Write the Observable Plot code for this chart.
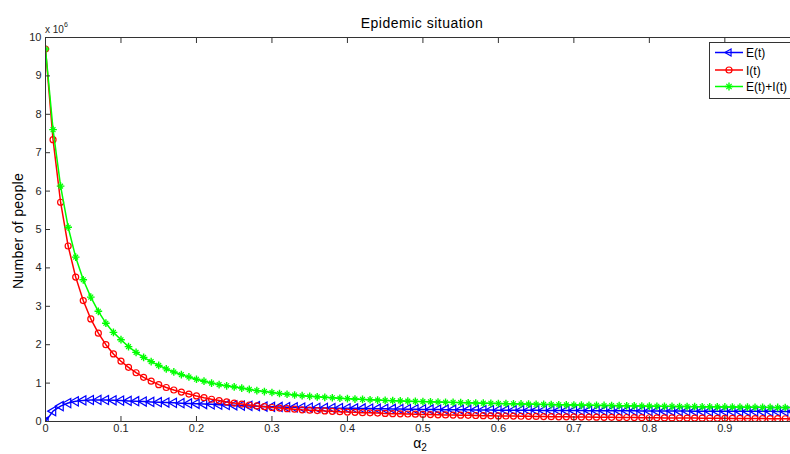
<!DOCTYPE html>
<html><head><meta charset="utf-8">
<script src="https://cdn.jsdelivr.net/npm/d3@7"></script>
<script src="https://cdn.jsdelivr.net/npm/@observablehq/plot@0.6"></script>
<style>
body{margin:0;background:#fff;}
#chart{width:790px;height:454px;overflow:hidden;}
</style>
</head><body><div id="chart"></div>
<script>
// alpha_2 values (x)
const alpha = [0.00,0.01,0.02,0.03,0.04,0.05,0.06,0.07,0.08,0.09,
0.10,0.11,0.12,0.13,0.14,0.15,0.16,0.17,0.18,0.19,
0.20,0.21,0.22,0.23,0.24,0.25,0.26,0.27,0.28,0.29,
0.30,0.31,0.32,0.33,0.34,0.35,0.36,0.37,0.38,0.39,
0.40,0.41,0.42,0.43,0.44,0.45,0.46,0.47,0.48,0.49,
0.50,0.51,0.52,0.53,0.54,0.55,0.56,0.57,0.58,0.59,
0.60,0.61,0.62,0.63,0.64,0.65,0.66,0.67,0.68,0.69,
0.70,0.71,0.72,0.73,0.74,0.75,0.76,0.77,0.78,0.79,
0.80,0.81,0.82,0.83,0.84,0.85,0.86,0.87,0.88,0.89,
0.90,0.91,0.92,0.93,0.94,0.95,0.96,0.97,0.98,0.99];

// E(t), in units of 10^6 people
const seriesE = [0.00,0.27,0.40,0.48,0.525,0.55,0.56,0.562,0.56,0.553,
0.545,0.537,0.528,0.52,0.511,0.502,0.494,0.486,0.478,0.47,
0.462,0.455,0.446,0.438,0.43,0.422,0.414,0.406,0.398,0.39,
0.383,0.378,0.373,0.368,0.364,0.36,0.357,0.354,0.351,0.348,
0.345,0.342,0.339,0.336,0.333,0.33,0.327,0.324,0.321,0.318,
0.315,0.313,0.311,0.309,0.307,0.305,0.303,0.301,0.299,0.297,
0.295,0.294,0.293,0.292,0.291,0.29,0.289,0.288,0.287,0.286,
0.285,0.284,0.283,0.282,0.281,0.28,0.279,0.278,0.277,0.276,
0.275,0.274,0.273,0.273,0.272,0.271,0.27,0.27,0.269,0.268,
0.268,0.267,0.266,0.266,0.265,0.265,0.264,0.263,0.263,0.262];

// I(t), in units of 10^6 people
const seriesI = [9.70,7.34,5.71,4.57,3.76,3.15,2.67,2.30,2.00,1.76,
1.57,1.41,1.27,1.15,1.05,0.96,0.885,0.82,0.765,0.715,
0.665,0.62,0.58,0.545,0.51,0.48,0.455,0.43,0.405,0.385,
0.365,0.35,0.335,0.32,0.305,0.295,0.285,0.275,0.265,0.255,
0.245,0.24,0.23,0.225,0.22,0.21,0.205,0.20,0.195,0.19,
0.185,0.18,0.175,0.172,0.168,0.164,0.16,0.156,0.152,0.149,
0.146,0.143,0.14,0.137,0.134,0.131,0.128,0.126,0.123,0.121,
0.118,0.116,0.114,0.112,0.11,0.108,0.106,0.104,0.102,0.10,
0.098,0.096,0.094,0.093,0.091,0.089,0.088,0.086,0.085,0.083,
0.082,0.08,0.079,0.078,0.076,0.075,0.074,0.073,0.072,0.07];

// E(t)+I(t), in units of 10^6 people
const seriesEI = [9.70,7.60,6.13,5.06,4.28,3.69,3.24,2.87,2.56,2.32,
2.13,1.95,1.80,1.67,1.56,1.46,1.37,1.29,1.22,1.16,
1.10,1.05,1.00,0.96,0.93,0.90,0.87,0.835,0.805,0.78,
0.755,0.73,0.71,0.69,0.672,0.656,0.642,0.63,0.618,0.606,
0.595,0.585,0.575,0.566,0.558,0.55,0.543,0.536,0.53,0.524,
0.518,0.512,0.507,0.502,0.497,0.492,0.487,0.482,0.477,0.473,
0.469,0.465,0.461,0.457,0.453,0.449,0.445,0.441,0.437,0.433,
0.43,0.427,0.424,0.421,0.418,0.415,0.412,0.409,0.406,0.403,
0.40,0.397,0.395,0.393,0.391,0.389,0.387,0.385,0.383,0.381,
0.379,0.377,0.375,0.373,0.371,0.369,0.367,0.366,0.365,0.364];

const xTicks = [0,0.1,0.2,0.3,0.4,0.5,0.6,0.7,0.8,0.9];
const xTickLabels = ["0","0.1","0.2","0.3","0.4","0.5","0.6","0.7","0.8","0.9"];
const yTicks = [0,1,2,3,4,5,6,7,8,9,10];
const yTickLabels = ["0","1","2","3","4","5","6","7","8","9","10"];
const seriesNames = ["E(t)","I(t)","E(t)+I(t)"];
const seriesColors = ["#0000ff","#ff0000","#00ff00"];

const rowsE = alpha.map((a,i)=>({a, v: seriesE[i]}));
const rowsI = alpha.map((a,i)=>({a, v: seriesI[i]}));
const rowsEI = alpha.map((a,i)=>({a, v: seriesEI[i]}));

const axisColor = "#333333";
const textColor = "#262626";
const font = "'Liberation Sans', Arial, sans-serif";

const plot = Plot.plot({
  width: 790, height: 454,
  marginLeft: 45, marginRight: 0, marginTop: 37, marginBottom: 33,
  style: {fontFamily: font, fontSize: "11px", color: textColor, background: "white", overflow: "visible"},
  x: {domain: [0, 0.987], label: null},
  y: {domain: [0, 10], label: null},
  marks: [
    Plot.line(rowsE, {x: "a", y: "v", stroke: seriesColors[0], strokeWidth: 1.5, clip: true}),
    Plot.dot(rowsE, {x: "a", y: "v", symbol: "triangle", rotate: -90, stroke: seriesColors[0], strokeWidth: 1.2, r: 3.4, clip: true}),
    Plot.line(rowsI, {x: "a", y: "v", stroke: seriesColors[1], strokeWidth: 1.5, clip: true}),
    Plot.dot(rowsI, {x: "a", y: "v", symbol: "circle", stroke: seriesColors[1], strokeWidth: 1.2, r: 3, clip: true}),
    Plot.line(rowsEI, {x: "a", y: "v", stroke: seriesColors[2], strokeWidth: 1.5, clip: true}),
    Plot.dot(rowsEI, {x: "a", y: "v", symbol: "plus", stroke: seriesColors[2], strokeWidth: 1.4, r: 2.6, clip: true}),
    Plot.dot(rowsEI, {x: "a", y: "v", symbol: "times", stroke: seriesColors[2], strokeWidth: 1.2, r: 2.3, clip: true}),
    Plot.ruleY([0, 10], {stroke: axisColor}),
    Plot.ruleX([0], {stroke: axisColor}),
    Plot.axisX({ticks: xTicks, tickSize: 0, tickPadding: 3, tickFormat: (d) => xTickLabels[xTicks.indexOf(d)]}),
    Plot.axisX({ticks: xTicks, tickSize: -5, stroke: axisColor, tickFormat: () => ""}),
    Plot.axisX({anchor: "top", ticks: xTicks, tickSize: -5, stroke: axisColor, tickFormat: () => ""}),
    Plot.axisY({ticks: yTicks, tickSize: 0, tickPadding: 4, tickFormat: (d) => yTickLabels[yTicks.indexOf(d)]}),
    Plot.axisY({ticks: yTicks, tickSize: -5, stroke: axisColor, tickFormat: () => ""})
  ]
});

document.getElementById("chart").appendChild(plot);
const svg = d3.select(plot);

// Title
svg.append("text").attr("x", 422).attr("y", 27.5).attr("text-anchor", "middle")
  .attr("font-family", font).attr("font-size", 14).attr("letter-spacing", 0.5).attr("fill", "#000").text("Epidemic situation");
// Y label
svg.append("text").attr("transform", "translate(23,231) rotate(-90)").attr("text-anchor", "middle")
  .attr("font-family", font).attr("font-size", 14).attr("letter-spacing", 0.3).attr("fill", "#000").text("Number of people");
// X label alpha_2
const xl = svg.append("text").attr("x", 420).attr("y", 448).attr("text-anchor", "middle")
  .attr("font-family", font).attr("font-size", 14).attr("fill", "#000");
xl.append("tspan").text("α");
xl.append("tspan").attr("font-size", 10).attr("dy", 3).text("2");
// Exponent
const ex = svg.append("text").attr("x", 45).attr("y", 33).attr("text-anchor", "start").attr("font-family", font).attr("font-size", 10).attr("fill", textColor);
ex.append("tspan").text("x 10");
ex.append("tspan").attr("font-size", 7).attr("dy", -6).text("6");

// Legend
const lg = svg.append("g");
lg.append("rect").attr("x", 709.5).attr("y", 42.5).attr("width", 100).attr("height", 56)
  .attr("fill", "white").attr("stroke", axisColor);
const ly = [52.5, 70, 86.5];
seriesNames.forEach((name, i) => {
  const y = ly[i];
  lg.append("line").attr("x1", 715).attr("x2", 743).attr("y1", y).attr("y2", y)
    .attr("stroke", seriesColors[i]).attr("stroke-width", 1.5);
  if (i === 0) {
    lg.append("path").attr("d", d3.symbol(d3.symbolTriangle2, 36)()).attr("transform", `translate(729,${y}) rotate(-90)`)
      .attr("fill", "none").attr("stroke", seriesColors[i]).attr("stroke-width", 1.2);
  } else if (i === 1) {
    lg.append("circle").attr("cx", 729).attr("cy", y).attr("r", 3).attr("fill", "none").attr("stroke", seriesColors[i]).attr("stroke-width", 1.2);
  } else {
    lg.append("path").attr("d", d3.symbol(d3.symbolPlus, 24)()).attr("transform", `translate(729,${y})`)
      .attr("fill", "none").attr("stroke", seriesColors[i]).attr("stroke-width", 1.4);
    lg.append("path").attr("d", d3.symbol(d3.symbolTimes, 20)()).attr("transform", `translate(729,${y})`)
      .attr("fill", "none").attr("stroke", seriesColors[i]).attr("stroke-width", 1.2);
  }
  lg.append("text").attr("x", 746).attr("y", y + 4.5).attr("text-anchor", "start").attr("font-family", font).attr("font-size", 12).attr("fill", "#000").text(name);
});
</script>
</body></html>
